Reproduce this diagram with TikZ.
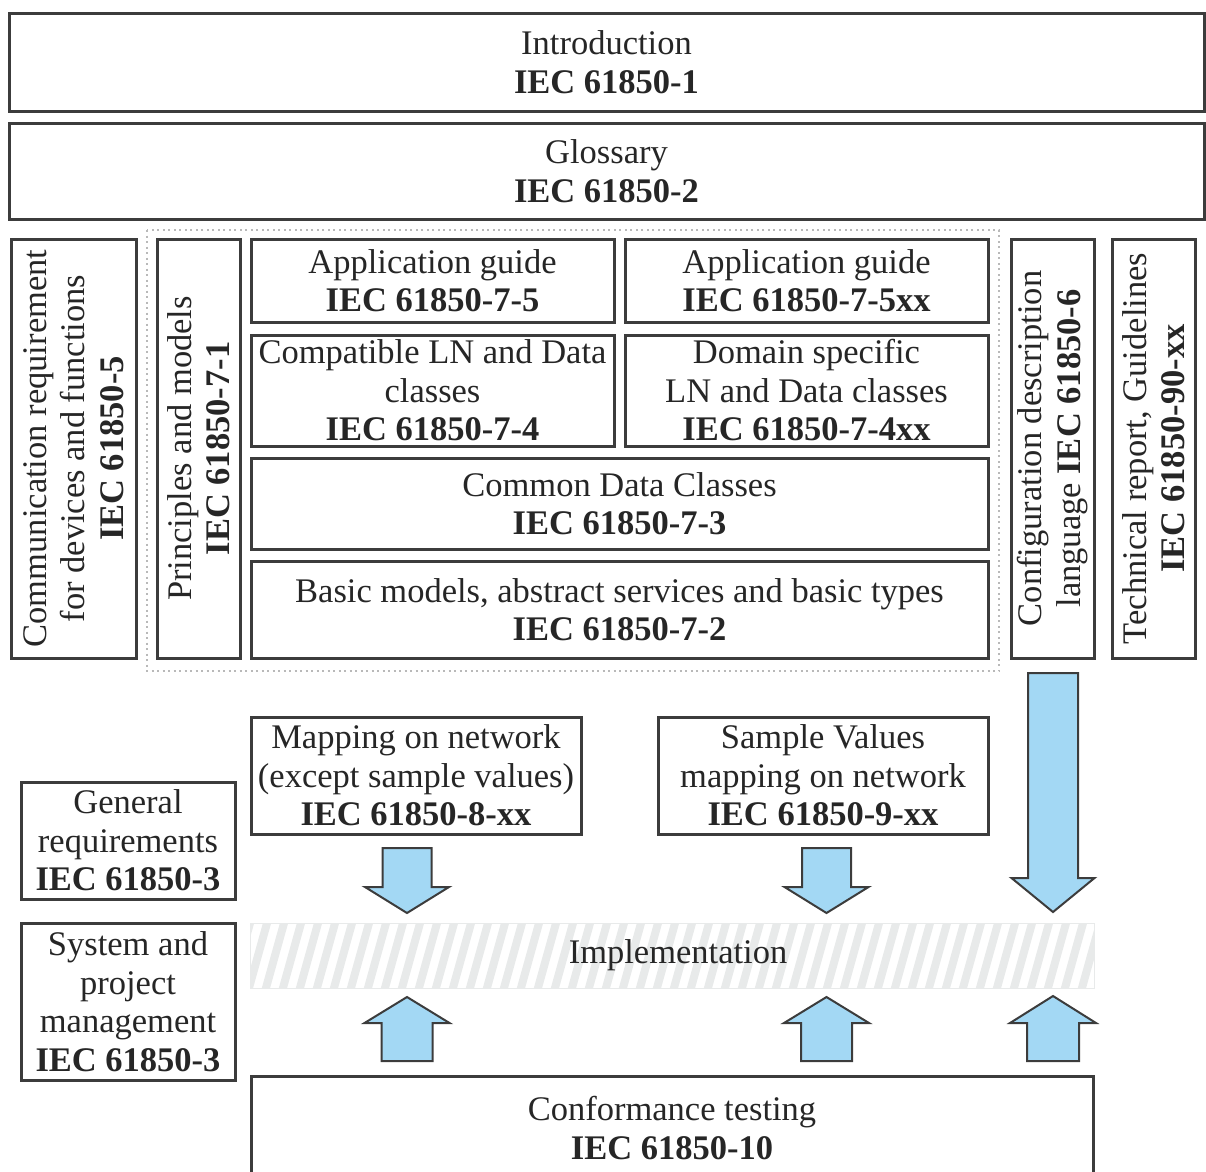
\documentclass[tikz,border=0pt]{standalone}
\usepackage{fontspec}
\setmainfont{Liberation Serif}
\usetikzlibrary{calc}
\definecolor{edge}{HTML}{3C3C3C}
\definecolor{ink}{HTML}{262626}
\definecolor{arrowfill}{HTML}{A3D8F4}
\definecolor{hatch}{HTML}{E8EAEA}
\tikzset{
  box/.style={draw=edge, line width=3pt, fill=white, inner sep=0pt, align=center,
    text=ink, font=\fontsize{34.5}{38.5}\selectfont},
  vbox/.style={box, rotate=90},
  blockarr/.style={draw=edge, line width=2pt, fill=arrowfill, line join=miter},
  group/.style={draw=gray!55, line width=1.3pt, dash pattern=on 2pt off 3.5pt},
}
% vertical block arrow: #1 tail, #2 tip, #3 shaft half width, #4 head half width,
% #5 signed offset from the tip to the head base
\newcommand\fatarrow[5]{%
  \coordinate (hb) at ($(#2)+(0,#5)$);
  \draw[blockarr] ($(#1)+(-#3,0)$) -- ($(hb)+(-#3,0)$) -- ($(hb)+(-#4,0)$) -- (#2)
    -- ($(hb)+(#4,0)$) -- ($(hb)+(#3,0)$) -- ($(#1)+(#3,0)$) -- cycle;}
\begin{document}
\begin{tikzpicture}[x=1pt,y=-1pt]
\useasboundingbox (0,0) rectangle (1206,1171);

% top bars
\node[box, minimum width=1195, minimum height=98] (intro) at (606.5,62)
  {Introduction\\\textbf{IEC 61850-1}};
\node[box, minimum width=1195, minimum height=96] (gloss) at (606.5,171)
  {Glossary\\\textbf{IEC 61850-2}};

% dotted frame around the part 7 family
\draw[group] (147,230) rectangle (999,671);

% side columns
\node[vbox, minimum width=419, minimum height=125] (comm) at (73.5,448.5)
  {Communication requirement\\for devices and functions\\\textbf{IEC 61850-5}};
\node[vbox, minimum width=419, minimum height=83] (princ) at (198.5,448.5)
  {Principles and models\\\textbf{IEC 61850-7-1}};
\node[vbox, minimum width=419, minimum height=83] (config) at (1052.5,448.5)
  {Configuration description\\language \textbf{IEC 61850-6}};
\node[vbox, minimum width=419, minimum height=83] (tech) at (1153.5,448.5)
  {Technical report, Guidelines\\\textbf{IEC 61850-90-xx}};

% part 7 stack
\node[box, minimum width=363, minimum height=83] (app) at (432.5,280.5)
  {Application guide\\\textbf{IEC 61850-7-5}};
\node[box, minimum width=363, minimum height=83] (appxx) at (806.5,280.5)
  {Application guide\\\textbf{IEC 61850-7-5xx}};
\node[box, minimum width=363, minimum height=111] (compat) at (432.5,390.5)
  {Compatible LN and Data\\classes\\\textbf{IEC 61850-7-4}};
\node[box, minimum width=363, minimum height=111] (domain) at (806.5,390.5)
  {Domain specific\\LN and Data classes\\\textbf{IEC 61850-7-4xx}};
\node[box, minimum width=737, minimum height=91] (cdc) at (619.5,503.5)
  {Common Data Classes\\\textbf{IEC 61850-7-3}};
\node[box, minimum width=737, minimum height=97] (basic) at (619.5,609.5)
  {Basic models, abstract services and basic types\\\textbf{IEC 61850-7-2}};

% mappings
\node[box, minimum width=330, minimum height=117] (map) at (416,775.5)
  {Mapping on network\\(except sample values)\\\textbf{IEC 61850-8-xx}};
\node[box, minimum width=330, minimum height=117] (sv) at (823,775.5)
  {Sample Values\\mapping on network\\\textbf{IEC 61850-9-xx}};

% left column
\node[box, minimum width=214, minimum height=117] (genreq) at (128,840.5)
  {General\\requirements\\\textbf{IEC 61850-3}};
\node[box, minimum width=214, minimum height=157] (sysproj) at (128,1001.5)
  {System and\\project\\management\\\textbf{IEC 61850-3}};

% hatched implementation band
\begin{scope}
  \clip (250,923) rectangle (1094,988);
  \foreach \s in {230,247,...,1110} {
    \draw[hatch, line width=8pt] (\s,995) -- (\s+22,916);
  }
\end{scope}
\node[draw=hatch, line width=1pt, minimum width=844, minimum height=65, inner sep=0pt]
  (impl) at (672,955.5) {};
\node[text=ink, font=\fontsize{34.5}{38.5}\selectfont, inner sep=0pt] (impltext)
  at (678,955.5) {Implementation};

% conformance testing
\node[box, minimum width=842, minimum height=104] (conf) at (672,1128)
  {Conformance testing\\\textbf{IEC 61850-10}};

% block arrows
\coordinate (mapT) at (407,848);   \coordinate (mapH) at (407,913);
\coordinate (svT) at (826.5,848);  \coordinate (svH) at (826.5,913);
\coordinate (cfgT) at (1053,673);  \coordinate (cfgH) at (1053,912);
\fatarrow{mapT}{mapH}{24.5}{42}{-26}
\fatarrow{svT}{svH}{24.5}{42}{-26}
\fatarrow{cfgT}{cfgH}{25}{41.5}{-34}

\coordinate (c1T) at (407,1061);   \coordinate (c1H) at (407,997);
\coordinate (c2T) at (826.5,1061); \coordinate (c2H) at (826.5,997);
\coordinate (c3T) at (1053,1061);  \coordinate (c3H) at (1053,996);
\fatarrow{c1T}{c1H}{25.5}{42.5}{26}
\fatarrow{c2T}{c2H}{25.5}{42.5}{26}
\fatarrow{c3T}{c3H}{26}{43}{27}
\end{tikzpicture}
\end{document}
